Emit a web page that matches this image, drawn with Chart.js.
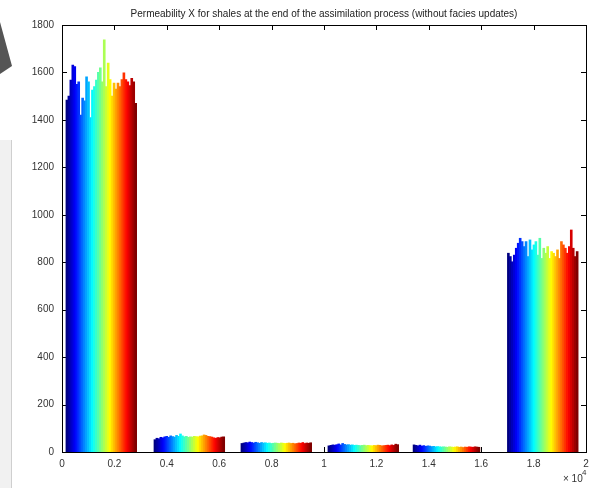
<!DOCTYPE html>
<html>
<head>
<meta charset="utf-8">
<script src="https://cdn.jsdelivr.net/npm/chart.js@4/dist/chart.umd.min.js"></script>
<style>
  html, body { margin: 0; padding: 0; background: #fff; }
  #wrap { position: relative; width: 600px; height: 488px; }
</style>
</head>
<body>
<div id="wrap"><canvas id="chart" width="600" height="488"></canvas></div>
<script>
// permeability values per shale group
const group1 = [1484, 1500, 1568, 1631, 1625, 1550, 1560, 1420, 1492, 1480, 1581, 1560, 1410, 1526, 1540, 1568, 1600, 1619, 1560, 1737, 1540, 1640, 1570, 1500, 1555, 1530, 1555, 1540, 1570, 1598, 1570, 1560, 1545, 1575, 1560, 1470];
const group2 = [52, 58, 56, 62, 60, 64, 66, 62, 68, 65, 63, 70, 66, 76, 68, 64, 66, 62, 64, 63, 66, 65, 64, 67, 68, 72, 70, 66, 65, 63, 60, 58, 61, 60, 63, 64];
const group3 = [36, 38, 40, 39, 42, 40, 38, 41, 39, 37, 40, 38, 39, 37, 38, 36, 37, 38, 37, 36, 38, 37, 36, 37, 38, 36, 37, 35, 36, 38, 37, 40, 36, 38, 37, 39];
const group4 = [26, 28, 30, 29, 31, 34, 30, 36, 32, 30, 31, 29, 30, 28, 29, 28, 27, 28, 29, 27, 28, 27, 26, 28, 27, 29, 28, 26, 27, 28, 29, 27, 30, 28, 33, 31];
const group5 = [30, 28, 26, 29, 25, 27, 24, 26, 25, 23, 24, 22, 23, 22, 21, 22, 21, 20, 22, 21, 20, 21, 22, 20, 21, 19, 21, 20, 22, 21, 20, 22, 21, 20];
const group6 = [838, 824, 802, 830, 859, 880, 901, 887, 866, 887, 824, 894, 852, 873, 887, 830, 901, 816, 859, 838, 866, 816, 845, 838, 824, 852, 816, 887, 873, 859, 838, 866, 936, 859, 824, 845];

// first cell index of each group (x 10^4) and cell spacing
const groupStarts = [0.015, 0.351, 0.683, 1.015, 1.34, 1.70];
const cellStep = 0.0075;

const xTicks = [0, 0.2, 0.4, 0.6, 0.8, 1, 1.2, 1.4, 1.6, 1.8, 2];
const xTickLabels = ['0', '0.2', '0.4', '0.6', '0.8', '1', '1.2', '1.4', '1.6', '1.8', '2'];
const yTicks = [0, 200, 400, 600, 800, 1000, 1200, 1400, 1600, 1800];

const title = 'Permeability X for shales at the end of the assimilation process (without facies updates)';

// jet colormap like matlab
function jet(t) {
  const c = v => Math.round(255 * Math.max(0, Math.min(1, v)));
  const r = c(1.5 - Math.abs(4 * t - 3));
  const g = c(1.5 - Math.abs(4 * t - 2));
  const b = c(1.5 - Math.abs(4 * t - 1));
  return `rgb(${r},${g},${b})`;
}

const points = [];
const colors = [];
[group1, group2, group3, group4, group5, group6].forEach((grp, gi) => {
  grp.forEach((v, i) => {
    points.push({ x: groupStarts[gi] + (i + 0.5) * cellStep, y: v });
    colors.push(jet(i / (grp.length - 1)));
  });
});

const FONT = 'Liberation Sans, Arial, sans-serif';

const matlabAxes = {
  id: 'matlabAxes',
  beforeDraw(chart) {
    const ctx = chart.ctx;
    ctx.save();
    // bits of the screenshot frame on the left
    ctx.fillStyle = '#f1f1f1';
    ctx.fillRect(0, 140, 11, 348);
    ctx.strokeStyle = '#cfcfcf';
    ctx.beginPath();
    ctx.moveTo(11.5, 140);
    ctx.lineTo(11.5, 488);
    ctx.stroke();
    ctx.fillStyle = '#555';
    ctx.beginPath();
    ctx.moveTo(0, 22);
    ctx.lineTo(12, 66);
    ctx.lineTo(0, 74);
    ctx.closePath();
    ctx.fill();
    ctx.restore();
  },
  beforeDatasetsDraw(chart) {
    const { ctx, chartArea: a, scales } = chart;
    ctx.save();
    ctx.strokeStyle = '#000';
    ctx.lineWidth = 1;
    ctx.beginPath();
    xTicks.forEach(v => {
      const px = Math.round(scales.x.getPixelForValue(v)) + 0.5;
      ctx.moveTo(px, a.bottom); ctx.lineTo(px, a.bottom - 5);
      ctx.moveTo(px, a.top); ctx.lineTo(px, a.top + 5);
    });
    yTicks.forEach(v => {
      const py = Math.round(scales.y.getPixelForValue(v)) + 0.5;
      ctx.moveTo(a.left, py); ctx.lineTo(a.left + 5, py);
      ctx.moveTo(a.right, py); ctx.lineTo(a.right - 5, py);
    });
    ctx.stroke();
    ctx.restore();
  },
  afterDraw(chart) {
    const { ctx, chartArea: a } = chart;
    ctx.save();
    ctx.strokeStyle = '#000';
    ctx.lineWidth = 1;
    ctx.strokeRect(Math.round(a.left) + 0.5, Math.round(a.top) + 0.5,
      Math.round(a.right - a.left), Math.round(a.bottom - a.top));
    ctx.fillStyle = '#222';
    ctx.font = '10px ' + FONT;
    ctx.textAlign = 'center';
    ctx.textBaseline = 'middle';
    ctx.fillText(title, (a.left + a.right) / 2, 14);
    // exponent label
    ctx.textAlign = 'left';
    ctx.fillStyle = '#333';
    ctx.fillText('\u00d7 10', 563, 479);
    ctx.font = '8px ' + FONT;
    ctx.fillText('4', 582, 473);
    ctx.restore();
  }
};

new Chart(document.getElementById('chart'), {
  type: 'bar',
  data: {
    datasets: [{
      data: points,
      backgroundColor: colors,
      borderWidth: 0,
      barPercentage: 1,
      categoryPercentage: 1
    }]
  },
  options: {
    responsive: false,
    animation: false,
    layout: { padding: { top: 25, right: 14, left: 0, bottom: 0 } },
    plugins: { legend: { display: false }, tooltip: { enabled: false } },
    scales: {
      x: {
        type: 'linear',
        min: 0,
        max: 2,
        offset: false,
        grid: { display: false, drawTicks: false },
        border: { display: false },
        afterBuildTicks: s => { s.ticks = xTicks.map(v => ({ value: v })); },
        afterFit: s => { s.height = 36; },
        ticks: {
          autoSkip: false,
          maxRotation: 0,
          padding: 6,
          color: '#333',
          font: { family: FONT, size: 10 },
          callback: (v) => xTickLabels[xTicks.indexOf(v)] ?? ''
        }
      },
      y: {
        min: 0,
        max: 1800,
        grid: { display: false, drawTicks: false },
        border: { display: false },
        afterBuildTicks: s => { s.ticks = yTicks.map(v => ({ value: v })); },
        afterFit: s => { s.width = 62; },
        ticks: {
          padding: 8,
          color: '#333',
          font: { family: FONT, size: 10 },
          callback: (v) => String(v)
        }
      }
    }
  },
  plugins: [matlabAxes]
});
</script>
</body>
</html>
